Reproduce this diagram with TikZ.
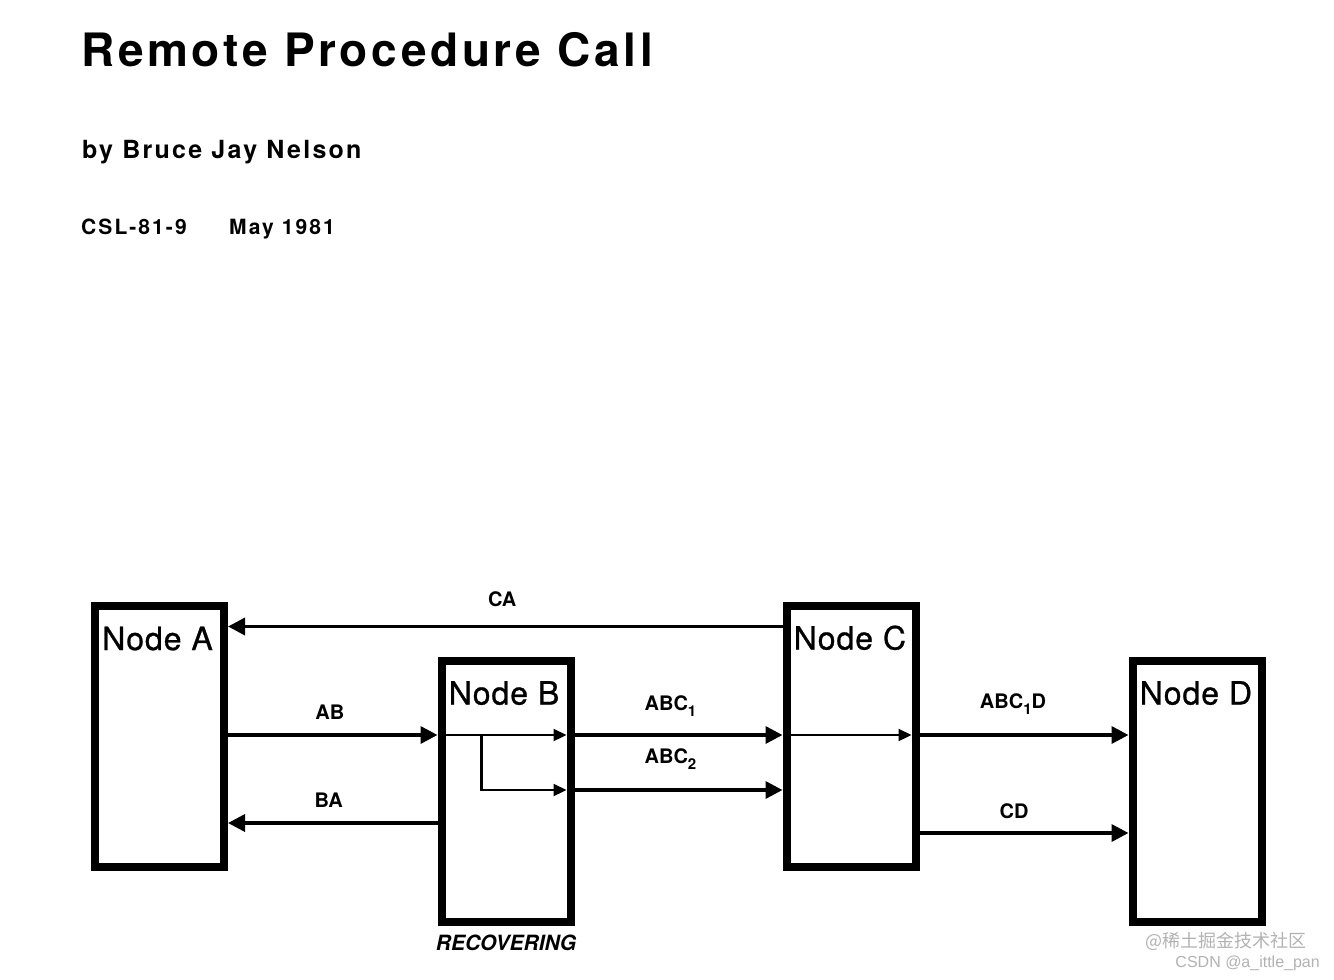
\documentclass[tikz,border=0pt]{standalone}
\usepackage{fontspec}
\setmainfont{TeX Gyre Heros}
\newfontfamily\cjkfont{Noto Sans CJK SC}
\newfontfamily\wmfont{Liberation Sans}
\usetikzlibrary{arrows.meta,calc}
\newcommand\lowidx[1]{\raisebox{-6pt}{\fontsize{15}{15}\selectfont #1}}
\begin{document}
\begin{tikzpicture}[x=1pt,y=-1pt,
  box/.style={draw, line width=8pt, fill=white, minimum width=129pt, minimum height=261pt, inner sep=0pt},
  boxname/.style={anchor=base west, inner sep=0pt, font=\fontsize{32}{32}\selectfont\addfontfeatures{LetterSpace=3,FakeBold=0.8}},
  link/.style={line width=3.5pt, -{Triangle[length=17pt,width=17pt]}},
  inlink/.style={line width=2.2pt, -{Triangle[length=13pt,width=12pt]}},
  tag/.style={anchor=base, inner sep=0pt, font=\fontsize{20}{20}\selectfont\bfseries}]
\useasboundingbox (0,0) rectangle (1334,980);

% Text Node
\node[anchor=base west, inner sep=0pt, font=\fontsize{46}{46}\selectfont\bfseries\addfontfeatures{LetterSpace=8}] (title) at (81,66) {Remote Procedure Call};
% Text Node
\node[anchor=base west, inner sep=0pt, font=\fontsize{25}{25}\selectfont\bfseries\addfontfeatures{LetterSpace=9}] (author) at (82,158) {by Bruce Jay Nelson};
% Text Node
\node[anchor=base west, inner sep=0pt, font=\fontsize{21}{21}\selectfont\bfseries\addfontfeatures{LetterSpace=10}] (report) at (81,234) {CSL-81-9};
% Text Node
\node[anchor=base west, inner sep=0pt, font=\fontsize{21}{21}\selectfont\bfseries\addfontfeatures{LetterSpace=10}] (date) at (229,234) {May 1981};

%Shape: Rectangle
\node[box] (A) at (159.5,736.5) {};
\node[box] (B) at (506,791) {};
\node[box] (C) at (851,736) {};
\node[box] (D) at (1197,791) {};

% Text Node
\node[boxname] (nameA) at ($(A.north west)+(11,48)$) {Node A};
\node[boxname] (nameB) at ($(B.north west)+(11,48)$) {Node B};
\node[boxname] (nameC) at ($(C.north west)+(11,48)$) {Node C};
\node[boxname] (nameD) at ($(D.north west)+(11,48)$) {Node D};

\coordinate (rowCA) at (0,626.5);
\coordinate (rowAB) at (0,735);
\coordinate (rowABC) at (0,790);
\coordinate (rowBA) at (0,823);
\coordinate (rowCD) at (0,833);

%Straight Lines
\draw[link] (C.west |- rowCA) -- node[tag, yshift=20pt, xshift=-3pt] {CA} (A.east |- rowCA);
\draw[link] (A.east |- rowAB) -- node[tag, yshift=16pt, xshift=-3pt] {AB} (B.west |- rowAB);
\draw[link] (B.west |- rowBA) -- node[tag, yshift=16pt, xshift=-4pt] {BA} (A.east |- rowBA);
\draw[link] (B.east |- rowAB) -- node[tag, yshift=25pt, xshift=-8pt] {ABC\lowidx{1}} (C.west |- rowAB);
\draw[link] (B.east |- rowABC) -- node[tag, yshift=27pt, xshift=-8pt] {ABC\lowidx{2}} (C.west |- rowABC);
\draw[link] (C.east |- rowAB) -- node[tag, yshift=27pt, xshift=-11pt] {ABC\lowidx{1}D} (D.west |- rowAB);
\draw[link] (C.east |- rowCD) -- node[tag, yshift=15pt, xshift=-10pt] {CD} (D.west |- rowCD);

%Straight Lines
\draw[inlink] ($(B.west |- rowAB)+(8,0)$) -- ($(B.east |- rowAB)+(-8,0)$);
\coordinate (fork) at ($(B.west |- rowAB)+(44,0)$);
\draw[inlink] (fork) |- ($(B.east |- rowABC)+(-8,0)$);
\draw[inlink] ($(C.west |- rowAB)+(8,0)$) -- ($(C.east |- rowAB)+(-8,0)$);

% Text Node
\node[anchor=base, inner sep=0pt, font=\fontsize{21}{21}\selectfont\bfseries\itshape] (recov) at ($(B.south)+(0,24.5)$) {RECOVERING};

% Text Node
\node[anchor=base east, inner sep=0pt, text=gray!60, font=\cjkfont\fontsize{18}{18}\selectfont] (mark1) at (1307,947) {@稀土掘金技术社区};
\node[anchor=base east, inner sep=0pt, text=gray!60, font=\wmfont\fontsize{16}{16}\selectfont] (mark2) at (1320,967) {CSDN @a\_ittle\_pan};

\end{tikzpicture}
\end{document}
